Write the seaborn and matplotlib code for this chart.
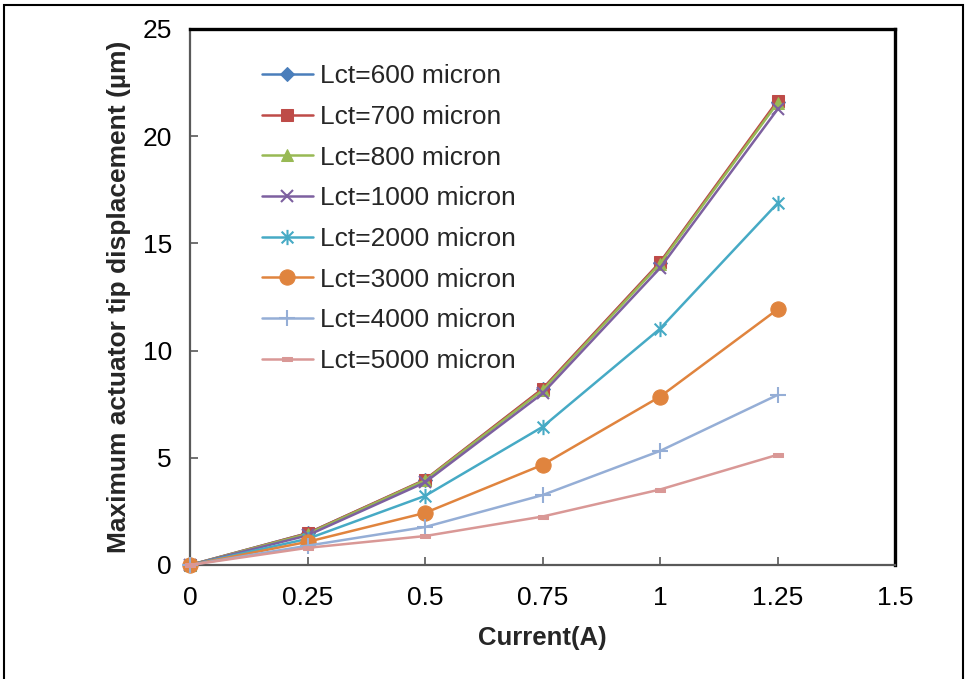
import numpy as np
import pandas as pd
import matplotlib
matplotlib.use("Agg")
import matplotlib.pyplot as plt
import seaborn as sns
from matplotlib.path import Path
from matplotlib.patches import Rectangle

current = [0, 0.25, 0.5, 0.75, 1.0, 1.25]
labels = ["Lct=600 micron", "Lct=700 micron", "Lct=800 micron", "Lct=1000 micron",
          "Lct=2000 micron", "Lct=3000 micron", "Lct=4000 micron", "Lct=5000 micron"]
d600 = [0, 1.48, 3.96, 8.2, 14.1, 21.6]
d700 = [0, 1.48, 3.98, 8.22, 14.12, 21.65]
d800 = [0, 1.45, 3.95, 8.15, 14.05, 21.55]
d1000 = [0, 1.38, 3.85, 8.0, 13.85, 21.25]
d2000 = [0, 1.22, 3.22, 6.44, 11.02, 16.87]
d3000 = [0, 1.08, 2.43, 4.67, 7.85, 11.92]
d4000 = [0, 0.9, 1.77, 3.26, 5.32, 7.93]
d5000 = [0, 0.8, 1.35, 2.26, 3.52, 5.14]
series = [d600, d700, d800, d1000, d2000, d3000, d4000, d5000]

colors = ["#4A7EBB", "#BE4B48", "#98B954", "#7D60A0", "#46AAC5", "#E0843E", "#95AED6", "#D99896"]

star = Path([(-1, -1), (1, 1), (-1, 1), (1, -1), (0, -1.3), (0, 1.3)],
            [Path.MOVETO, Path.LINETO, Path.MOVETO, Path.LINETO, Path.MOVETO, Path.LINETO])
dash = Path([(-1, -0.45), (1, -0.45), (1, 0.45), (-1, 0.45), (-1, -0.45)],
            [Path.MOVETO, Path.LINETO, Path.LINETO, Path.LINETO, Path.CLOSEPOLY])
plus = Path([(-1, 0), (1, 0), (0, -1), (0, 1)],
            [Path.MOVETO, Path.LINETO, Path.MOVETO, Path.LINETO])
mstyles = [
    dict(marker="D", markersize=7),
    dict(marker="s", markersize=9),
    dict(marker="^", markersize=9),
    dict(marker="x", markersize=9, markeredgewidth=1.5),
    dict(marker=star, markersize=11, markeredgewidth=1.5),
    dict(marker="o", markersize=11),
    dict(marker=plus, markersize=11, markeredgewidth=1.5),
    dict(marker=dash, markersize=7),
]

sns.set_theme(style="white")
plt.rcParams["font.family"] = ["Liberation Sans", "DejaVu Sans"]

fig = plt.figure(figsize=(9.67, 6.79), dpi=100)
ax = fig.add_axes([190/967, 1-565/679, (895-190)/967, (565-29)/679])

for lab, vals, c, ms in zip(labels, series, colors, mstyles):
    df = pd.DataFrame({"x": current, "y": vals})
    sns.lineplot(data=df, x="x", y="y", ax=ax, color=c, linewidth=1.8, label=lab,
                 markeredgecolor=c, markerfacecolor=c, clip_on=False, zorder=3, **ms)

ax.set_xlim(0, 1.5)
ax.set_ylim(0, 25)
ax.set_xticks([0, 0.25, 0.5, 0.75, 1, 1.25, 1.5])
ax.set_xticklabels(["0", "0.25", "0.5", "0.75", "1", "1.25", "1.5"])
ax.set_yticks([0, 5, 10, 15, 20, 25])
ax.set_yticklabels(["0", "5", "10", "15", "20", "25"])
ax.tick_params(axis="both", direction="in", length=6, width=1.2, color="#595959",
               labelsize=19, labelcolor="black", bottom=True, left=True)
ax.tick_params(axis="x", pad=15)
ax.tick_params(axis="y", pad=13)
ax.set_xlabel("Current(A)", fontsize=18.5, fontweight="bold", labelpad=12)
ax.set_ylabel("Maximum actuator tip displacement (µm)", fontsize=19, fontweight="bold", labelpad=8)
for s in ["left", "bottom"]:
    ax.spines[s].set_color("#595959")
    ax.spines[s].set_linewidth(1.6)
for s in ["top", "right"]:
    ax.spines[s].set_color("black")
    ax.spines[s].set_linewidth(2.4)

leg = ax.legend(loc="upper left", bbox_to_anchor=(0.102, 0.934), frameon=False, fontsize=19,
                handlelength=1.93, handletextpad=0.27, labelspacing=0.63, borderaxespad=0,
                borderpad=0)

fig.patches.append(Rectangle((4/967, -0.05), (963-4)/967, 1.05-5/679, transform=fig.transFigure,
                             fill=False, edgecolor="black", linewidth=1.5))

fig.savefig("out.png", dpi=100)
